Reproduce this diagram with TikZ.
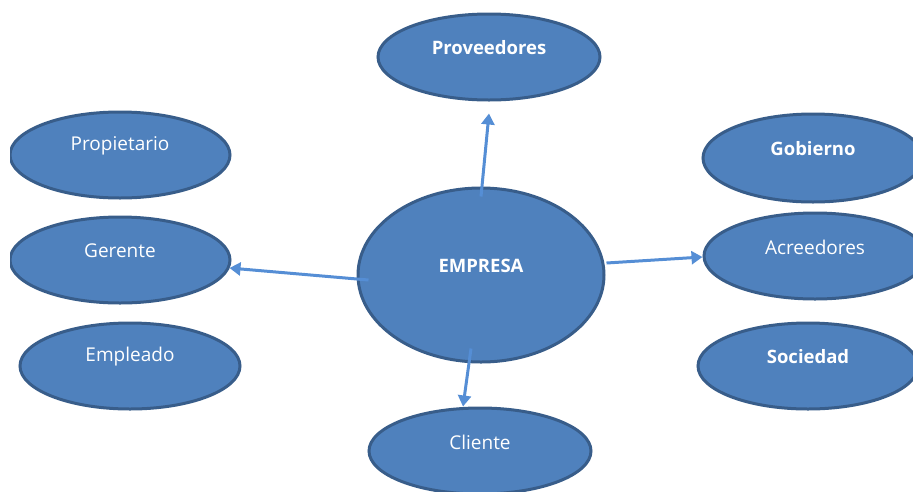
\documentclass[tikz,border=0pt]{standalone}
\usepackage{fontspec}
\setmainfont{Open Sans}
\usetikzlibrary{shapes.geometric,arrows.meta}
\definecolor{bubblefill}{HTML}{4F81BD}
\definecolor{bubbleline}{HTML}{385D8A}
\definecolor{linkblue}{HTML}{558ED5}

\begin{document}
\begin{tikzpicture}[x=1pt, y=-1pt,
  bubble/.style={ellipse, draw=bubbleline, fill=bubblefill, line width=3pt, minimum width=220pt, minimum height=86pt, inner sep=0pt},
  bubbletext/.style={text=white, font=\fontsize{19}{22}\selectfont, yshift=9pt},
  bubblebold/.style={bubbletext, font=\fontsize{18.5}{22}\selectfont\bfseries},
  link/.style={linkblue, line width=3pt, -{Triangle[length=11pt,width=13pt]}}]
  \useasboundingbox (0,0) rectangle (913,491);
  \clip (10,0) rectangle (913,491);

    \node[bubble, minimum width=222pt, label={[bubblebold]center:Proveedores}] (prov) at (489,57) {};
    \node[bubble, label={[bubbletext]center:Propietario}] (prop) at (120,155) {};
    \node[bubble, label={[bubbletext]center:Gerente}] (ger) at (120,260) {};
    \node[bubble, label={[bubbletext]center:Empleado}] (emp) at (130,366) {};
    \node[bubble, minimum width=246pt, minimum height=174pt, label={[bubblebold]center:EMPRESA}] (empresa) at (481,275) {};
    \node[bubble, minimum height=88pt, label={[bubblebold]center:Gobierno}] (gob) at (813,158) {};
    \node[bubble, minimum width=222pt, label={[bubbletext]center:Acreedores}] (acre) at (815,256) {};
    \node[bubble, label={[bubblebold]center:Sociedad}] (soc) at (808,366) {};
    \node[bubble, minimum width=222pt, label={[bubbletext]center:Cliente}] (cli) at (480,451) {};

    \draw[link] ([shift={(0,10)}]empresa.north) -- ([shift={(0,12)}]prov.south);
    \draw[link] ([shift={(12,5)}]empresa.west) -- ([shift={(-2,8)}]ger.east);
    \draw[link] ([shift={(1,-12)}]empresa.east) -- ([shift={(0,1)}]acre.west);
    \draw[link] ([shift={(-10,-15)}]empresa.south) -- ([shift={(-17,0)}]cli.north);

\end{tikzpicture}
\end{document}
